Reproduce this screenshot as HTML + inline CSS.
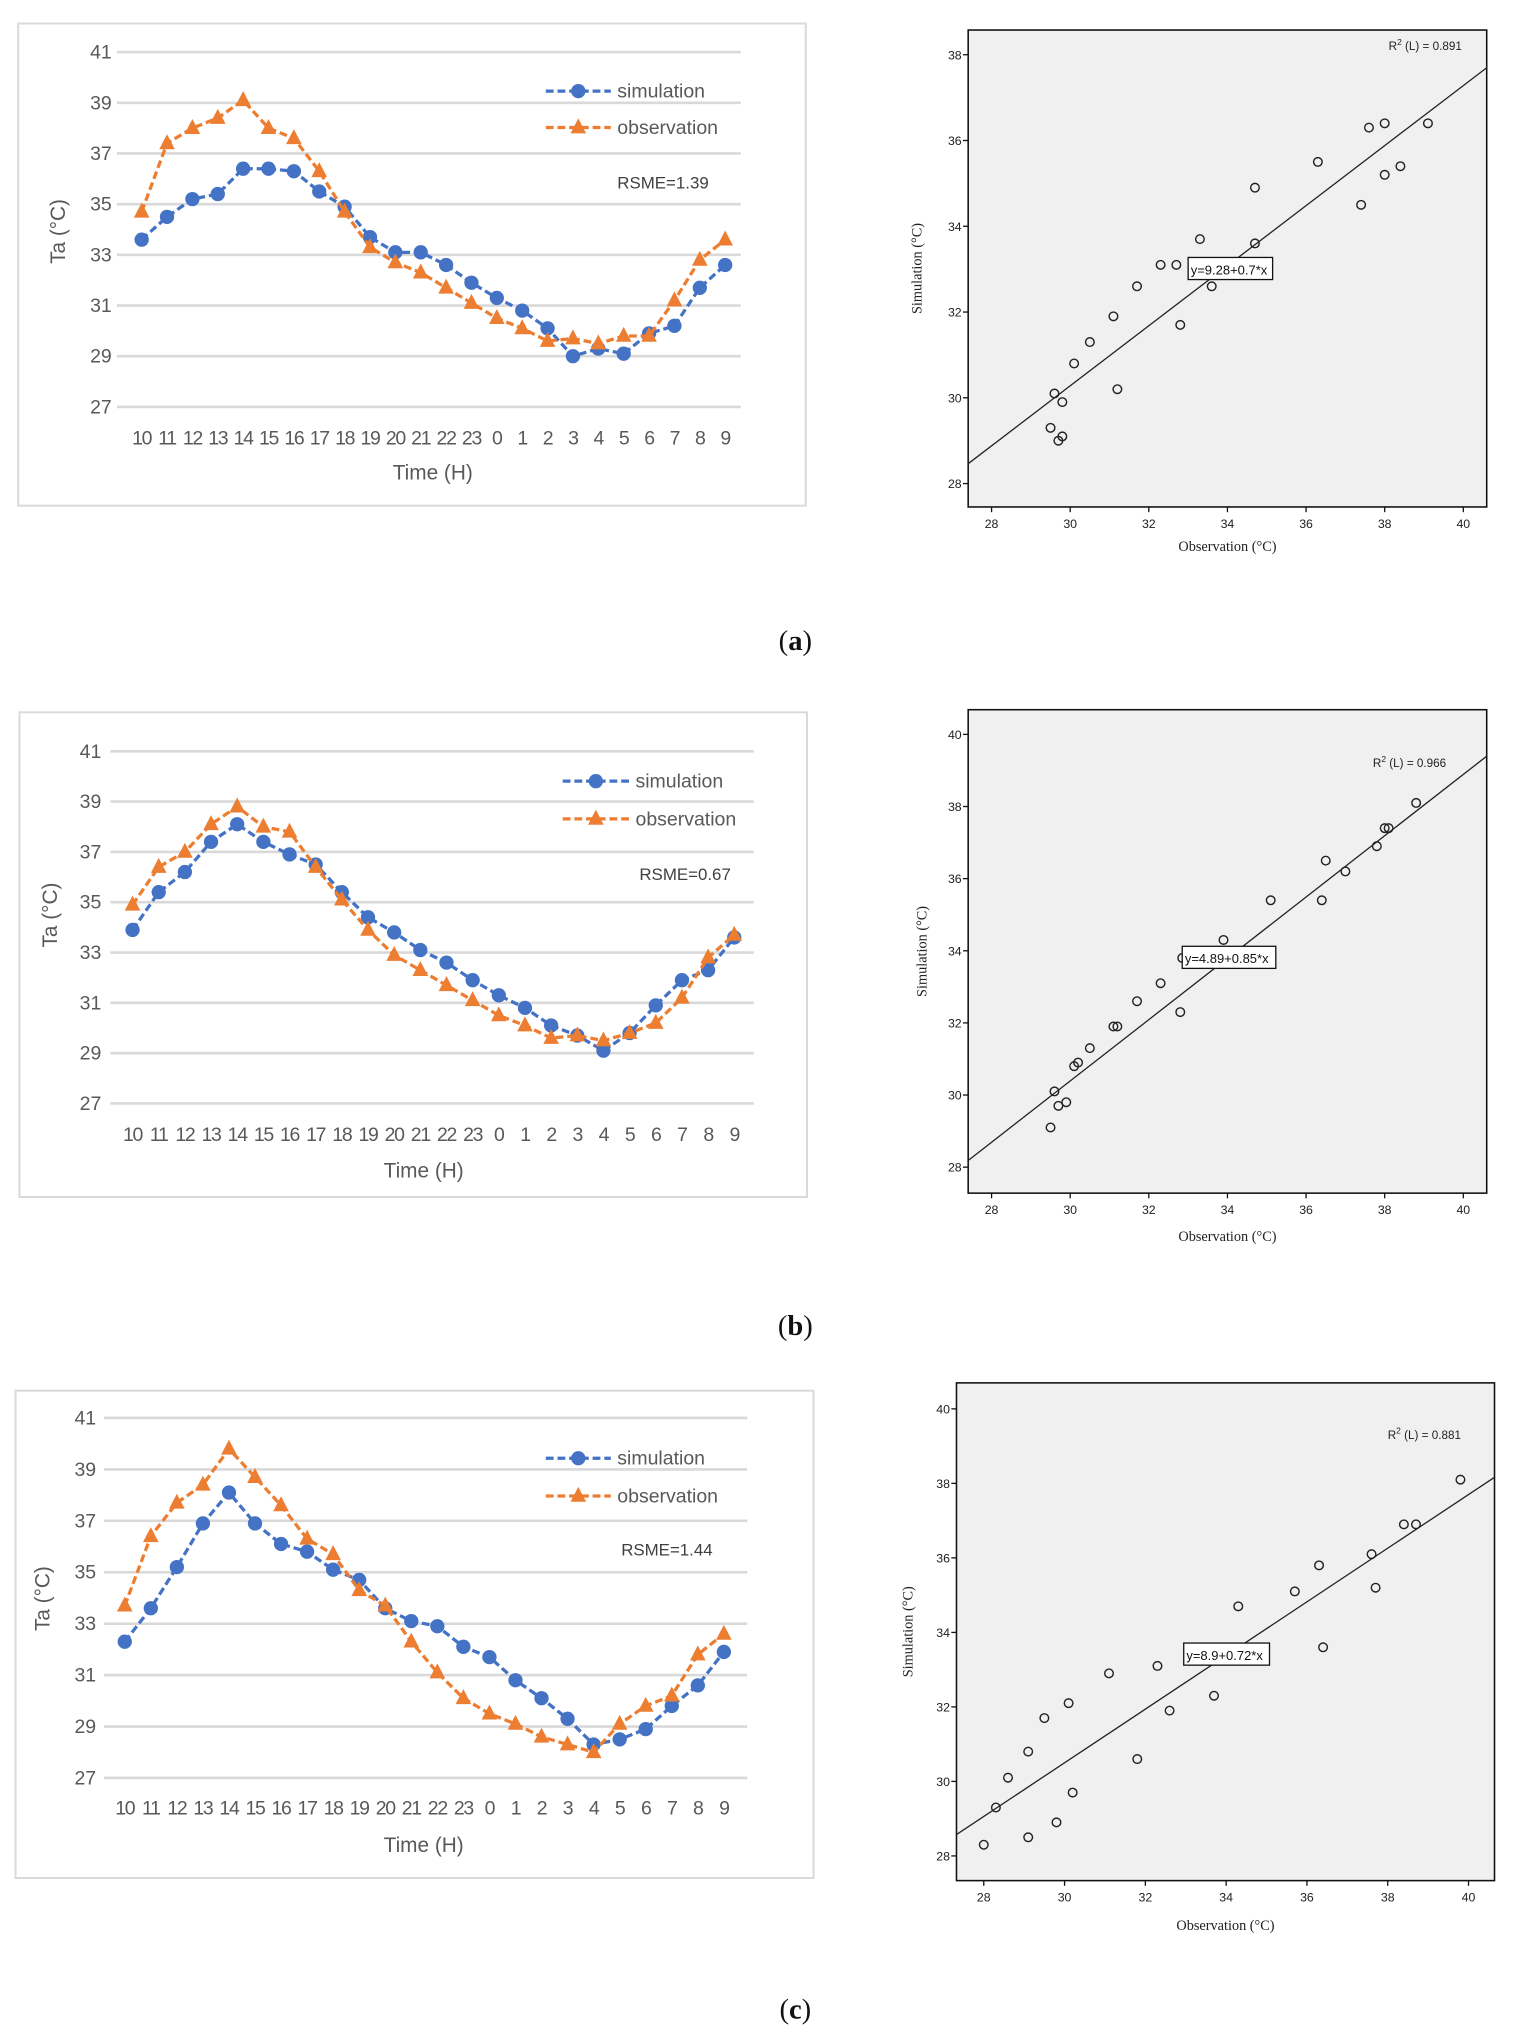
<!DOCTYPE html>
<html><head><meta charset="utf-8">
<style>
html,body{margin:0;padding:0;background:#fff;}
svg{display:block;}
.ax{font-family:"Liberation Sans",sans-serif;}
</style></head>
<body>
<svg id="fig" width="1514" height="2038" viewBox="0 0 1165 1568" xmlns="http://www.w3.org/2000/svg"></svg>
<script>
// ---------- data ----------
const hours = ["10","11","12","13","14","15","16","17","18","19","20","21","22","23","0","1","2","3","4","5","6","7","8","9"];
const yTicksLine = [27,29,31,33,35,37,39,41];
const simA = [33.6,34.5,35.2,35.4,36.4,36.4,36.3,35.5,34.9,33.7,33.1,33.1,32.6,31.9,31.3,30.8,30.1,29.0,29.3,29.1,29.9,30.2,31.7,32.6];
const obsA = [34.7,37.4,38.0,38.4,39.1,38.0,37.6,36.3,34.7,33.3,32.7,32.3,31.7,31.1,30.5,30.1,29.6,29.7,29.5,29.8,29.8,31.2,32.8,33.6];
const simB = [33.9,35.4,36.2,37.4,38.1,37.4,36.9,36.5,35.4,34.4,33.8,33.1,32.6,31.9,31.3,30.8,30.1,29.7,29.1,29.8,30.9,31.9,32.3,33.6];
const obsB = [34.9,36.4,37.0,38.1,38.8,38.0,37.8,36.4,35.1,33.9,32.9,32.3,31.7,31.1,30.5,30.1,29.6,29.7,29.5,29.8,30.2,31.2,32.8,33.7];
const simC = [32.3,33.6,35.2,36.9,38.1,36.9,36.1,35.8,35.1,34.7,33.6,33.1,32.9,32.1,31.7,30.8,30.1,29.3,28.3,28.5,28.9,29.8,30.6,31.9];
const obsC = [33.7,36.4,37.7,38.4,39.8,38.7,37.6,36.3,35.7,34.3,33.7,32.3,31.1,30.1,29.5,29.1,28.6,28.3,28.0,29.1,29.8,30.2,31.8,32.6];
const rsme = ["RSME=1.39","RSME=0.67","RSME=1.44"];

const scXA = [29.5,29.7,29.8,29.6,29.8,30.1,30.5,31.1,31.2,31.7,32.3,32.7,32.8,33.3,33.6,34.7,34.7,36.3,37.4,37.6,38.0,38.0,38.4,39.1];
const scYA = [29.3,29.0,29.1,30.1,29.9,30.8,31.3,31.9,30.2,32.6,33.1,33.1,31.7,33.7,32.6,34.9,33.6,35.5,34.5,36.3,36.4,35.2,35.4,36.4];
const scXB = [29.5,29.6,29.7,29.9,30.1,30.2,30.5,31.1,31.2,31.7,32.3,32.8,32.85,33.9,35.1,36.4,36.5,37.0,37.8,38.0,38.1,38.8];
const scYB = [29.1,30.1,29.7,29.8,30.8,30.9,31.3,31.9,31.9,32.6,33.1,32.3,33.8,34.3,35.4,35.4,36.5,36.2,36.9,37.4,37.4,38.1];
const scXC = [28.0,28.3,28.6,29.1,29.1,29.5,29.8,30.1,30.2,31.1,31.8,32.3,32.6,33.7,34.3,35.7,36.3,36.4,37.6,37.7,38.4,38.7,39.8];
const scYC = [28.3,29.3,30.1,28.5,30.8,31.7,28.9,32.1,29.7,32.9,30.6,33.1,31.9,32.3,34.7,35.1,35.8,33.6,36.1,35.2,36.9,36.9,38.1];
const fitA = [9.28,0.7], fitB = [4.89,0.85], fitC = [8.9,0.72];
const fitTextA = "y=9.28+0.7*x", fitTextB = "y=4.89+0.85*x", fitTextC = "y=8.9+0.72*x";
const r2A = "0.891", r2B = "0.966", r2C = "0.881";
const xTicksSc = [28,30,32,34,36,38,40];
const yTicksScA = [28,30,32,34,36,38];
const yTicksScB = [28,30,32,34,36,38,40];
const yTicksScC = [28,30,32,34,36,38,40];

// ---------- helpers ----------
const NS = "http://www.w3.org/2000/svg";
const svg = document.getElementById('fig');
function mk(tag, attrs, parent){
  const e = document.createElementNS(NS, tag);
  for (const k in attrs) e.setAttribute(k, attrs[k]);
  (parent||svg).appendChild(e);
  return e;
}
function txt(s, attrs, parent){ const e = mk('text', attrs, parent); e.textContent = s; return e; }

const BLUE = "#4472C4", ORANGE = "#ED7D31", GREY = "#595959";

function lineChart(c, sim, obs, rs, id){
  const g = mk('g', {class:'ax'});
  
  
  const box = mk('rect', {x:c.bx, y:c.by, width:c.bw, height:c.bh, fill:'#fff', stroke:'#d9d9d9', 'stroke-width':1.5}, g);
  
  
  const yS = v => c.y27 + (v-27)*(c.y41-c.y27)/14;
  const xS = i => c.x0 + i*(c.x1-c.x0)/(hours.length-1);
  yTicksLine.forEach(t => {
    const l = mk('line', {x1:c.gx0, x2:c.gx1, y1:yS(t), y2:yS(t), stroke:'#d9d9d9', 'stroke-width':2}, g);
    
    
    const tl = txt(String(t), {x:c.ytx, y:yS(t)+5, 'text-anchor':'end', 'font-size':15, fill:GREY}, g);
    
    
  });
  hours.forEach((h,i) => {
    const tl = txt(h, {x:xS(i), y:c.xly, 'text-anchor':'middle', 'font-size':15, fill:GREY, 'letter-spacing':-1}, g);
    
    
  });
  const yt = txt('Ta (°C)', {x:c.tax, y:c.tay, 'text-anchor':'middle', 'font-size':16, fill:GREY, transform:`rotate(-90 ${c.tax} ${c.tay})`}, g);
  
  
  const xt = txt('Time (H)', {x:c.tix, y:c.tiy, 'text-anchor':'middle', 'font-size':16, fill:GREY}, g);
  
  
  function series(vals, col, kind, nm){
    const pts = vals.map((v,i)=>xS(i)+','+yS(v)).join(' ');
    const pl = mk('polyline', {points:pts, fill:'none', stroke:col, 'stroke-width':2.5, 'stroke-dasharray':'6,3'}, g);
    
    
    vals.forEach((v,i)=>{
      let m;
      if (kind==='c') m = mk('circle', {cx:xS(i), cy:yS(v), r:5.5, fill:col}, g);
      else { const x=xS(i), y=yS(v); m = mk('polygon', {points:`${x},${y-7} ${x-6},${y+4.5} ${x+6},${y+4.5}`, fill:col}, g); }
      
      
    });
  }
  series(sim, BLUE, 'c', 'simulation');
  series(obs, ORANGE, 't', 'observation');
  // legend
  const lg = mk('g', {}, g);
  
  
  const lm = (c.lx0+c.lx1)/2;
  const l1 = mk('line', {x1:c.lx0, x2:c.lx1, y1:c.ly1, y2:c.ly1, stroke:BLUE, 'stroke-width':2.5, 'stroke-dasharray':'6,3'}, lg);
  
  
  const c1 = mk('circle', {cx:lm, cy:c.ly1, r:5.5, fill:BLUE}, lg);
  
  
  const t1 = txt('simulation', {x:c.ltx, y:c.ly1+5, 'font-size':15, fill:GREY}, lg);
  
  
  const l2 = mk('line', {x1:c.lx0, x2:c.lx1, y1:c.ly2, y2:c.ly2, stroke:ORANGE, 'stroke-width':2.5, 'stroke-dasharray':'6,3'}, lg);
  
  
  const p2 = mk('polygon', {points:`${lm},${c.ly2-7} ${lm-6},${c.ly2+4.5} ${lm+6},${c.ly2+4.5}`, fill:ORANGE}, lg);
  
  
  const t2 = txt('observation', {x:c.ltx, y:c.ly2+5, 'font-size':15, fill:GREY}, lg);
  
  
  const r = txt(rs, {x:c.rx, y:c.ry, 'font-size':13, fill:'#404040'}, g);
  
  
}

function scatter(c, xs, ys, fit, fitText, r2, yTicks, id){
  const g = mk('g', {class:'ax'});
  
  
  const xS = v => c.x28 + (v-28)*(c.x40-c.x28)/12;
  const yS = v => c.y28 + (v-28)*(c.yTop-c.y28)/(c.yTopV-28);
  const x0 = c.bx0, x1 = c.bx1, y0 = c.by0, y1 = c.by1;
  const bg = mk('rect', {x:x0, y:y0, width:x1-x0, height:y1-y0, fill:'#f0f0f0', stroke:'#111', 'stroke-width':1.2}, g);
  
  
  xTicksSc.forEach(t => {
    const tk = mk('line', {x1:xS(t), x2:xS(t), y1:y1, y2:y1+4, stroke:'#111', 'stroke-width':1}, g);
    
    
    const tl = txt(String(t), {x:xS(t), y:y1+16, 'text-anchor':'middle', 'font-size':9.5, fill:'#222'}, g);
    
    
  });
  yTicks.forEach(t => {
    const tk = mk('line', {x1:x0-4, x2:x0, y1:yS(t), y2:yS(t), stroke:'#111', 'stroke-width':1}, g);
    
    
    const tl = txt(String(t), {x:x0-5, y:yS(t)+3.5, 'text-anchor':'end', 'font-size':9.5, fill:'#222'}, g);
    
    
  });
  // fit line clipped to box
  const vx0 = 28 + (x0-c.x28)*12/(c.x40-c.x28), vx1 = 28 + (x1-c.x28)*12/(c.x40-c.x28);
  const fl = mk('line', {x1:x0, y1:yS(fit[0]+fit[1]*vx0), x2:x1, y2:yS(fit[0]+fit[1]*vx1), stroke:'#222', 'stroke-width':1}, g);
  
  
  xs.forEach((v,i) => {
    const p = mk('circle', {cx:xS(v), cy:yS(ys[i]), r:3.3, fill:'none', stroke:'#222', 'stroke-width':1.1}, g);
    
    
  });
  const bx = xS(c.eqx), by = yS(c.eqy);
  const eb = mk('rect', {x:bx, y:by-9, width:c.eqw, height:17, fill:'#fff', stroke:'#111', 'stroke-width':1}, g);
  
  
  const et = txt(fitText, {x:bx+2, y:by+4, 'font-size':10, fill:'#111'}, g);
  
  
  const rt = mk('text', {x:xS(c.r2x), y:yS(c.r2y)+3, 'font-size':9, fill:'#222'}, g);
  
  
  rt.innerHTML = 'R<tspan dy="-4" font-size="6.5">2</tspan><tspan dy="4"> (L) = ' + r2 + '</tspan>';
  const yl = txt('Simulation (°C)', {x:c.ytx, y:(y0+y1)/2, 'text-anchor':'middle', 'font-size':11, 'font-family':'"Liberation Serif",serif', fill:'#222', transform:`rotate(-90 ${c.ytx} ${(y0+y1)/2})`}, g);
  
  
  const xl = txt('Observation (°C)', {x:(x0+x1)/2, y:c.xty, 'text-anchor':'middle', 'font-size':11, 'font-family':'"Liberation Serif",serif', fill:'#222'}, g);
  
  
}

lineChart({bx:14,by:18,bw:606,bh:371,y41:40,y27:313,x0:109,x1:558,gx0:90,gx1:570,ytx:86,xly:342,tax:50,tay:178,tix:333,tiy:369,lx0:420,lx1:470,ly1:70,ly2:98,ltx:475,rx:475,ry:145}, simA, obsA, rsme[0], 'a');
lineChart({bx:15,by:548,bw:606,bh:373,y41:578,y27:849,x0:102,x1:565,gx0:85,gx1:580,ytx:78,xly:878,tax:44,tay:704,tix:326,tiy:906,lx0:433,lx1:484,ly1:601,ly2:630,ltx:489,rx:492,ry:677}, simB, obsB, rsme[1], 'b');
lineChart({bx:12,by:1070,bw:614,bh:375,y41:1091,y27:1368,x0:96,x1:557,gx0:80,gx1:575,ytx:74,xly:1396,tax:38,tay:1230,tix:326,tiy:1425,lx0:420,lx1:470,ly1:1122,ly2:1151,ltx:475,rx:478,ry:1197}, simC, obsC, rsme[2], 'c');

scatter({x28:763,x40:1126,y28:372,yTop:42,yTopV:38,bx0:745,bx1:1144,by0:23,by1:390,eqx:33.0,eqy:33.0,eqw:65,r2x:38.1,r2y:38.2,ytx:709,xty:424}, scXA, scYA, fitA, fitTextA, r2A, yTicksScA, 'a');
scatter({x28:763,x40:1126,y28:898,yTop:565,yTopV:40,bx0:745,bx1:1144,by0:546,by1:918,eqx:32.85,eqy:33.8,eqw:72,r2x:37.7,r2y:39.2,ytx:713,xty:955}, scXB, scYB, fitB, fitTextB, r2B, yTicksScB, 'b');
scatter({x28:757,x40:1130,y28:1428,yTop:1084,yTopV:40,bx0:736,bx1:1150,by0:1064,by1:1447,eqx:32.95,eqy:33.4,eqw:66,r2x:38.0,r2y:39.3,ytx:702,xty:1485}, scXC, scYC, fitC, fitTextC, r2C, yTicksScC, 'c');

[["a",500],["b",1027],["c",1553]].forEach(p => {
  const t = mk('text', {x:612, y:p[1], 'text-anchor':'middle', 'font-size':22, 'font-family':'"Liberation Serif",serif', fill:'#111'});
  
  
  t.innerHTML = '(<tspan font-weight="bold">' + p[0] + '</tspan>)';
});
</script>
</body></html>
